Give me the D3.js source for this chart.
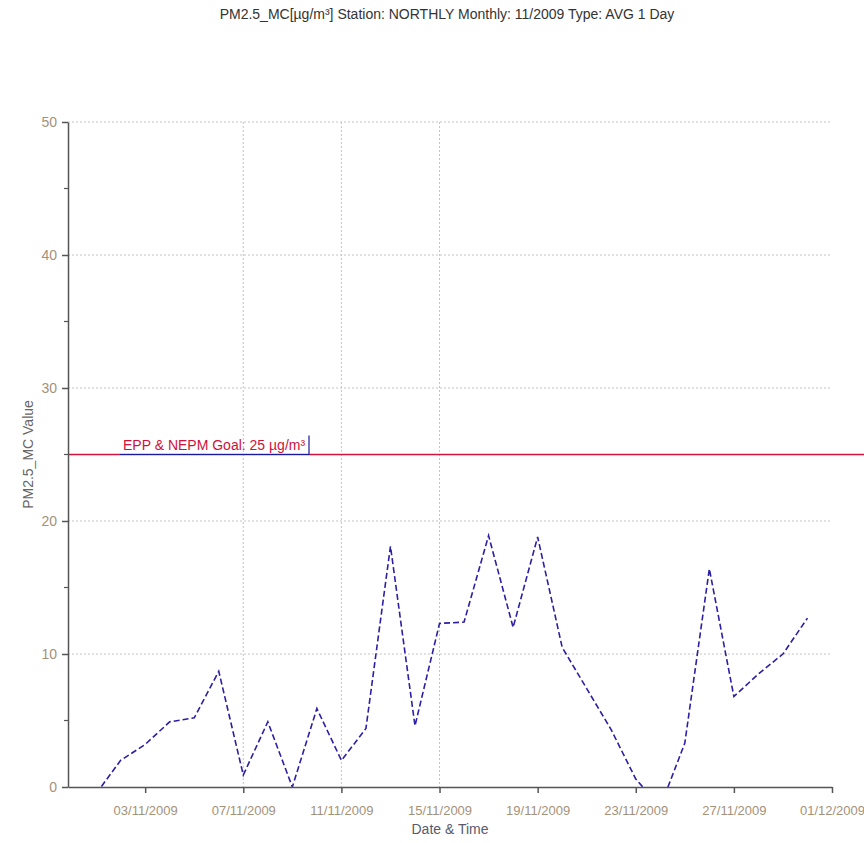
<!DOCTYPE html>
<html>
<head>
<meta charset="utf-8">
<script src="https://cdn.jsdelivr.net/npm/d3@7"></script>
<style>
  body { margin: 0; background: #fff; }
  text { font-family: "Liberation Sans", Arial, sans-serif; }
</style>
</head>
<body>
<div id="chart"></div>
<script>
// daily averages, 01/11/2009 .. 30/11/2009
let days = d3.range(1, 31).map(d => new Date(2009, 10, d));
let values = [-0.5, 2.0, 3.2, 4.9, 5.2, 8.7, 0.9, 4.9, 0.0, 5.9,
              2.0, 4.4, 18.1, 4.6, 12.3, 12.4, 18.9, 12.0, 18.8, 10.5,
              7.4, 4.3, 0.6, -1.5, 3.3, 16.4, 6.8, 8.5, 10.0, 12.7];
let tickDates = [new Date(2009, 10, 3), new Date(2009, 10, 7), new Date(2009, 10, 11),
                 new Date(2009, 10, 15), new Date(2009, 10, 19), new Date(2009, 10, 23),
                 new Date(2009, 10, 27), new Date(2009, 11, 1)];
let tickLabels = ["03/11/2009", "07/11/2009", "11/11/2009", "15/11/2009",
                  "19/11/2009", "23/11/2009", "27/11/2009", "01/12/2009"];
let gridDates = [new Date(2009, 10, 7), new Date(2009, 10, 11), new Date(2009, 10, 15)];
let yTicks = [0, 10, 20, 30, 40, 50];
let yMinor = [5, 15, 25, 35, 45];
let goal = 25;

let data = days.map((d, i) => ({date: d, value: values[i]}));

let W = 864, H = 843;
let margin = {top: 122, right: 32, left: 68, bottom: 56};
let width = W - margin.left - margin.right;
let height = H - margin.top - margin.bottom;

let svg = d3.select("#chart")
    .append("svg")
    .attr("width", W)
    .attr("height", H);

let chart = svg.append("g")
    .attr("transform", "translate(" + margin.left + ", " + margin.top + ")");

let x = d3.scaleTime()
    .domain([new Date(2009, 9, 30, 20, 30), new Date(2009, 11, 1)])
    .range([0, width]);

let y = d3.scaleLinear()
    .domain([0, 50])
    .range([height, 0]);

// title
svg.append("text")
    .attr("x", 447)
    .attr("y", 19)
    .attr("text-anchor", "middle")
    .style("font-size", "14px")
    .attr("fill", "#333")
    .text("PM2.5_MC[µg/m³] Station: NORTHLY Monthly: 11/2009 Type: AVG 1 Day");

// grid
chart.selectAll(".hgrid")
    .data(yTicks.filter(d => d > 0))
    .enter()
    .append("line")
    .attr("x1", 0)
    .attr("x2", width)
    .attr("y1", d => y(d))
    .attr("y2", d => y(d))
    .attr("stroke", "#c4c4c4")
    .attr("stroke-dasharray", "2,2");

chart.selectAll(".vgrid")
    .data(gridDates)
    .enter()
    .append("line")
    .attr("x1", d => x(d))
    .attr("x2", d => x(d))
    .attr("y1", 0)
    .attr("y2", height)
    .attr("stroke", "#c4c4c4")
    .attr("stroke-dasharray", "2,2");

// goal line
chart.append("line")
    .attr("x1", 0)
    .attr("x2", W - margin.left)
    .attr("y1", y(goal))
    .attr("y2", y(goal))
    .attr("stroke", "#d4143c")
    .attr("stroke-width", 1.5);

chart.append("path")
    .attr("d", "M52," + y(goal) + "H241V" + (y(goal) - 19))
    .attr("fill", "none")
    .attr("stroke", "#1a1aa0")
    .attr("stroke-width", 1.2);

chart.append("text")
    .attr("x", 55)
    .attr("y", y(goal) - 5)
    .style("font-size", "14px")
    .attr("fill", "#d0103a")
    .text("EPP & NEPM Goal: 25 µg/m³");

// data line
chart.append("clipPath")
    .attr("id", "clip")
    .append("rect")
    .attr("width", width)
    .attr("height", height);

chart.append("path")
    .datum(data)
    .attr("clip-path", "url(#clip)")
    .attr("fill", "none")
    .attr("stroke", "#2c1fa6")
    .attr("stroke-width", 1.6)
    .attr("stroke-dasharray", "6,3")
    .attr("d", d3.line()
        .x(d => x(d.date))
        .y(d => y(d.value)));

// axes
let xAxis = d3.axisBottom(x)
    .tickValues(tickDates)
    .tickFormat((d, i) => tickLabels[i])
    .tickSize(6)
    .tickSizeOuter(0);

let yAxis = d3.axisLeft(y)
    .tickValues(yTicks)
    .tickSize(6)
    .tickSizeOuter(0);

let gx = chart.append("g")
    .attr("transform", "translate(0," + height + ")")
    .call(xAxis);
gx.select(".domain").attr("stroke", "#555").attr("stroke-width", 1.5);
gx.selectAll(".tick line").attr("stroke", "#555").attr("stroke-width", 1.5);
gx.selectAll(".tick text")
    .attr("dy", "1.45em")
    .style("font-size", "13px")
    .style("font-family", "'Liberation Sans', Arial, sans-serif")
    .attr("fill", "#a3927a");

let gy = chart.append("g")
    .call(yAxis);
gy.select(".domain").attr("stroke", "#555").attr("stroke-width", 1.5);
gy.selectAll(".tick line").attr("stroke", "#555").attr("stroke-width", 1.5);
gy.selectAll(".tick text")
    .attr("x", -11)
    .style("font-size", "14px")
    .style("font-family", "'Liberation Sans', Arial, sans-serif")
    .attr("fill", "#a3927a");

chart.selectAll(".minor")
    .data(yMinor)
    .enter()
    .append("line")
    .attr("x1", -4)
    .attr("x2", 0)
    .attr("y1", d => y(d))
    .attr("y2", d => y(d))
    .attr("stroke", "#555")
    .attr("stroke-width", 1.2);

// axis labels
svg.append("text")
    .attr("x", margin.left + width / 2)
    .attr("y", 834)
    .attr("text-anchor", "middle")
    .style("font-size", "14px")
    .attr("fill", "#5a5a6a")
    .text("Date & Time");

svg.append("text")
    .attr("transform", "translate(33," + (margin.top + height / 2) + ") rotate(-90)")
    .attr("text-anchor", "middle")
    .style("font-size", "14px")
    .attr("fill", "#666")
    .text("PM2.5_MC Value");
</script>
</body>
</html>
